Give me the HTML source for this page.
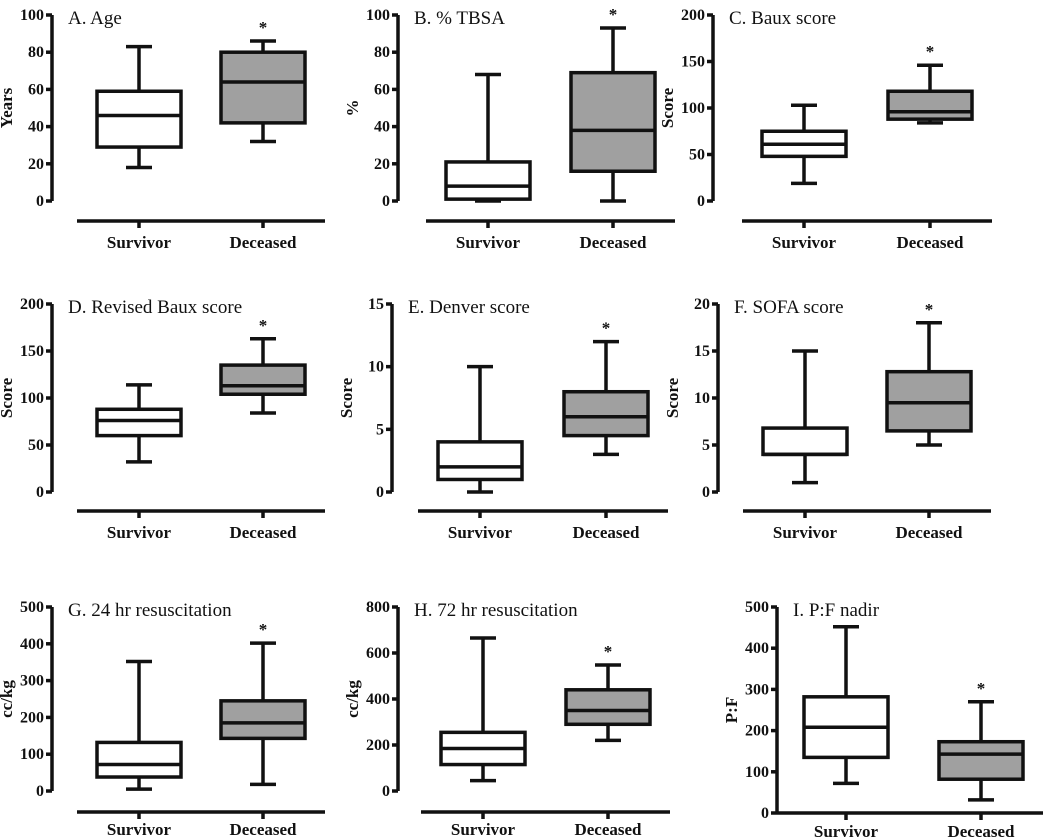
<!DOCTYPE html>
<html><head><meta charset="utf-8"><style>
body{margin:0;background:#fff}
svg{display:block;font-family:"Liberation Serif",serif}
</style></head><body>
<svg id="c" width="1050" height="838"></svg>
<script>
const panelTitles=["A. Age","B. % TBSA","C. Baux score","D. Revised Baux score","E. Denver score","F. SOFA score","G. 24 hr resuscitation","H. 72 hr resuscitation","I. P:F nadir"];
const yLabels=["Years","%","Score","Score","Score","Score","cc/kg","cc/kg","P:F"];
const yMaxes=[100,100,200,200,15,20,500,800,500];
const yTickSteps=[20,20,50,50,5,5,100,200,100];
const categories=["Survivor","Deceased"];
const survivorStats=[[18,29,46,59,83],[0,1,8,21,68],[19,48,61,75,103],[32,60,76,88,114],[0,1,2,4,10],[1,4,4,6.8,15],[5,38,72,132,352],[45,115,185,255,665],[72,135,208,282,452]];
const deceasedStats=[[32,42,64,80,86],[0,16,38,69,93],[84,88,96,118,146],[84,104,113,135,163],[3,4.5,6,8,12],[5,6.5,9.5,12.8,18],[18,143,185,245,402],[220,290,350,440,548],[32,82,143,173,270]];
const layout=[
 {ax:52,top:15,bot:201,xl:221,lb:248,cx:[139,263]},
 {ax:398,top:15,bot:201,xl:221,lb:248,cx:[488,613]},
 {ax:713,top:15,bot:201,xl:221,lb:248,cx:[804,930]},
 {ax:52,top:304,bot:492,xl:511,lb:538,cx:[139,263]},
 {ax:392,top:304,bot:492,xl:511,lb:538,cx:[480,606]},
 {ax:718,top:304,bot:492,xl:511,lb:538,cx:[805,929]},
 {ax:52,top:607,bot:791,xl:812,lb:835,cx:[139,263]},
 {ax:398,top:607,bot:791,xl:812,lb:835,cx:[483,608]},
 {ax:777,top:607,bot:813,xl:813,lb:837,cx:[846,981]}];
const svg=document.getElementById('c');
const NS="http://www.w3.org/2000/svg";
function mk(t,a,p){const e=document.createElementNS(NS,t);for(const k in a)e.setAttribute(k,a[k]);(p||svg).appendChild(e);return e;}
for(let i=0;i<9;i++){
 const L=layout[i];
 const g=mk('g',{});
 
 
 const y=v=>L.bot-(v/yMaxes[i])*(L.bot-L.top);
 const st={stroke:'#111','stroke-width':3.5,fill:'none'};
 const ya=mk('line',Object.assign({x1:L.ax,x2:L.ax,y1:L.top,y2:L.bot},st),g);
 
 for(let v=0;v<=yMaxes[i];v+=yTickSteps[i]){
  mk('line',Object.assign({x1:L.ax-6,x2:L.ax,y1:y(v),y2:y(v)},st),g);
  const t=mk('text',{x:L.ax-8,y:y(v)+5,'text-anchor':'end','font-size':16,'font-weight':'bold',fill:'#111'},g);
  t.textContent=v;
  
 }
 const yl=mk('text',{x:0,y:0,transform:`translate(${L.ax-40},${(L.top+L.bot)/2}) rotate(-90)`,'text-anchor':'middle','font-size':17,'font-weight':'bold',fill:'#111'},g);
 yl.textContent=yLabels[i];
 
 const tt=mk('text',{x:L.ax+16,y:L.top+9,'font-size':19,fill:'#111'},g);
 tt.textContent=panelTitles[i];
 
 const hw=42;
 const xa=mk('line',Object.assign({x1:i==8?L.ax:L.cx[0]-hw-20,x2:L.cx[1]+hw+20,y1:L.xl,y2:L.xl},st),g);
 
 [survivorStats[i],deceasedStats[i]].forEach((s,j)=>{
  const cx=L.cx[j];
  mk('line',Object.assign({x1:cx,x2:cx,y1:L.xl,y2:L.xl+7},st),g);
  const xt=mk('text',{x:cx,y:L.lb,'text-anchor':'middle','font-size':17,'font-weight':'bold',fill:'#111'},g);
  xt.textContent=categories[j];
  
  const b=mk('g',{},g);
  
  
  mk('line',Object.assign({x1:cx,x2:cx,y1:y(s[0]),y2:y(s[4])},st),b);
  mk('line',Object.assign({x1:cx-13,x2:cx+13,y1:y(s[0]),y2:y(s[0])},st),b);
  mk('line',Object.assign({x1:cx-13,x2:cx+13,y1:y(s[4]),y2:y(s[4])},st),b);
  mk('rect',{x:cx-hw,y:y(s[3]),width:2*hw,height:y(s[1])-y(s[3]),fill:j?'#a0a0a0':'#fff',stroke:'#111','stroke-width':3.5},b);
  mk('line',Object.assign({x1:cx-hw,x2:cx+hw,y1:y(s[2]),y2:y(s[2])},st),b);
  if(j==1){const a=mk('text',{x:cx,y:y(s[4])-8,'text-anchor':'middle','font-size':17,'font-weight':'bold',fill:'#111'},b);a.textContent='*';
   }
 });
}
</script>
</body></html>
